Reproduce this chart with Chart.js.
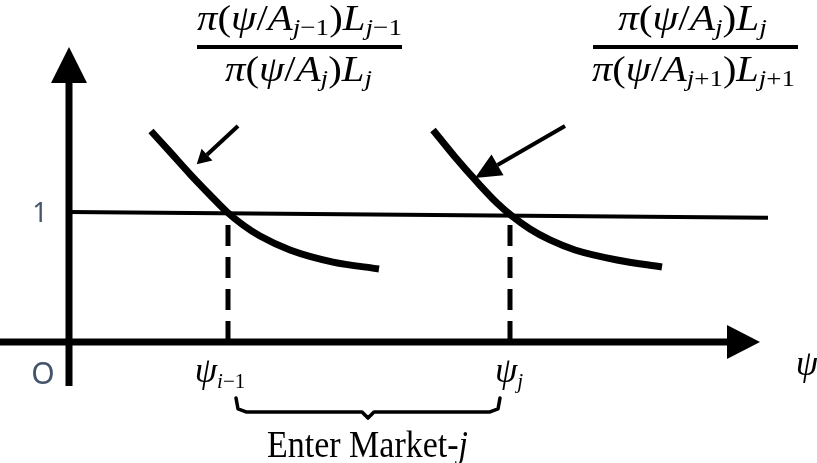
<!DOCTYPE html>
<html>
<head>
<meta charset="utf-8">
<script src="https://cdn.jsdelivr.net/npm/chart.js@4"></script>
<style>
  html, body { margin: 0; padding: 0; background: #fff; }
  #wrap { width: 817px; height: 463px; }
</style>
</head>
<body>
<div id="wrap"><canvas id="diagram" width="817" height="463"></canvas></div>
<script>
/* diagram: entry thresholds psi_{i-1}, psi_j where profit ratios cross 1 */

// ratio curve for market j-1 vs j (left) and j vs j+1 (right)
const curveLeft = [
  { x: 0.82, y: 1.623 }, { x: 1.01, y: 1.462 }, { x: 1.21, y: 1.292 },
  { x: 1.41, y: 1.131 }, { x: 1.58, y: 1.0 }, { x: 1.74, y: 0.9 },
  { x: 1.91, y: 0.815 }, { x: 2.21, y: 0.708 }, { x: 2.64, y: 0.615 },
  { x: 3.10, y: 0.562 }
];
const curveRight = [
  { x: 3.64, y: 1.631 }, { x: 3.86, y: 1.423 }, { x: 4.08, y: 1.231 },
  { x: 4.28, y: 1.069 }, { x: 4.43, y: 0.969 }, { x: 4.61, y: 0.869 },
  { x: 4.81, y: 0.785 }, { x: 5.06, y: 0.708 }, { x: 5.48, y: 0.631 },
  { x: 5.93, y: 0.577 }
];
// level 1 reference line
const unitLine = [{ x: 0, y: 1.0 }, { x: 6.99, y: 0.955 }];
// axes (end at the arrow base, head added by plugin)
const xAxisLine = [{ x: -0.69, y: 0 }, { x: 6.58, y: 0 }];
const yAxisLine = [{ x: 0, y: -0.338 }, { x: 0, y: 1.992 }];
// thresholds
const thresholds = [1.59, 4.41];
const dropTop = 0.9;
// pointers from the formulas to the curves
const pointerLeft = [{ x: 1.69, y: 1.662 }, { x: 1.38, y: 1.441 }];
const pointerRight = [{ x: 4.96, y: 1.662 }, { x: 4.285, y: 1.362 }];
// fraction bars
const fracBarLeft = [{ x: 1.28, y: 2.269 }, { x: 3.33, y: 2.269 }];
const fracBarRight = [{ x: 5.24, y: 2.269 }, { x: 7.29, y: 2.269 }];
// brace under the interval
const brace = [
  { x: 1.67, y: -0.431 }, { x: 1.69, y: -0.515 }, { x: 1.77, y: -0.538 },
  { x: 2.93, y: -0.538 }, { x: 2.99, y: -0.585 }, { x: 3.05, y: -0.538 },
  { x: 4.21, y: -0.538 }, { x: 4.29, y: -0.515 }, { x: 4.31, y: -0.431 }
];

// text runs: [text, kind]  i = italic, r = roman, si/sr = subscript
const numLeft = [['π','i'],['(','r'],['ψ','i'],['/','r'],['A','i'],['j','si'],['−1','sr'],[')','r'],['L','i'],['j','si'],['−1','sr']];
const denLeft = [['π','i'],['(','r'],['ψ','i'],['/','r'],['A','i'],['j','si'],[')','r'],['L','i'],['j','si']];
const numRight = denLeft;
const denRight = [['π','i'],['(','r'],['ψ','i'],['/','r'],['A','i'],['j','si'],['+1','sr'],[')','r'],['L','i'],['j','si'],['+1','sr']];
const psiPrev = [['ψ','i'],['i','si'],['−1','sr']];
const psiJ = [['ψ','i'],['j','si']];
const psiAxis = [['ψ','i']];
const enterLabel = [['Enter Market-','r'],['j','i']];

const INK = '#000';
const TICK_COLOR = '#44546A';

function line(data, width, extra) {
  return Object.assign({
    data, showLine: true, borderColor: INK, backgroundColor: INK,
    borderWidth: width, pointRadius: 0, tension: 0, clip: false,
    borderCapStyle: 'butt'
  }, extra || {});
}

function drawRuns(ctx, runs, x, y, opt) {
  const main = opt.size, sub = opt.sub || Math.round(main * 0.64), drop = opt.drop || 5;
  const fontOf = r => (r[1].includes('i') ? 'italic ' : '') + (r[1][0] === 's' ? sub : main) + 'px "Liberation Serif", "DejaVu Serif", serif';
  let w = 0;
  const widths = runs.map(r => { ctx.font = fontOf(r); const m = ctx.measureText(r[0]).width; w += m; return m; });
  const k = opt.width ? opt.width / w : 1;
  ctx.save();
  ctx.fillStyle = INK;
  ctx.textBaseline = 'alphabetic';
  ctx.textAlign = 'left';
  ctx.translate(opt.align === 'center' ? x - w * k / 2 : x, y);
  ctx.scale(k, 1);
  let cx = 0;
  runs.forEach((r, i) => {
    ctx.font = fontOf(r);
    ctx.fillText(r[0], cx, r[1][0] === 's' ? drop : 0);
    cx += widths[i];
  });
  ctx.restore();
}

const arrowHeads = {
  id: 'arrowHeads',
  afterDatasetsDraw(chart) {
    const ctx = chart.ctx;
    chart.data.datasets.forEach((ds, i) => {
      if (!ds.arrowHead) return;
      const pts = chart.getDatasetMeta(i).data;
      const a = pts[pts.length - 2], b = pts[pts.length - 1];
      const dx = b.x - a.x, dy = b.y - a.y, l = Math.hypot(dx, dy);
      const ux = dx / l, uy = dy / l;
      const { len, half } = ds.arrowHead;
      ctx.save();
      ctx.fillStyle = INK;
      ctx.beginPath();
      ctx.moveTo(b.x + ux * len, b.y + uy * len);
      ctx.lineTo(b.x - uy * half, b.y + ux * half);
      ctx.lineTo(b.x + uy * half, b.y - ux * half);
      ctx.closePath();
      ctx.fill();
      ctx.restore();
    });
  }
};

const labels = {
  id: 'labels',
  afterDraw(chart) {
    const ctx = chart.ctx, sx = chart.scales.x, sy = chart.scales.y;
    const X = v => sx.getPixelForValue(v), Y = v => sy.getPixelForValue(v);

    // tick-like labels
    ctx.save();
    ctx.fillStyle = TICK_COLOR;
    ctx.textAlign = 'center';
    ctx.textBaseline = 'middle';
    ctx.font = '27px "Noto Sans", sans-serif';
    ctx.fillText('1', X(-0.29), Y(0.985));
    ctx.font = '30px "Noto Sans", sans-serif';
    ctx.fillText('O', X(-0.26), Y(-0.258));
    ctx.restore();

    // formulas
    drawRuns(ctx, numLeft, X(2.305), Y(2.4), { size: 36, sub: 24, drop: 5, width: 205, align: 'center' });
    drawRuns(ctx, denLeft, X(2.295), Y(2.008), { size: 36, sub: 24, drop: 5, width: 147, align: 'center' });
    drawRuns(ctx, numRight, X(6.235), Y(2.4), { size: 36, sub: 24, drop: 5, width: 149, align: 'center' });
    drawRuns(ctx, denRight, X(6.245), Y(2.008), { size: 36, sub: 24, drop: 5, width: 203, align: 'center' });

    // axis labels
    drawRuns(ctx, psiPrev, X(1.51), Y(-0.308), { size: 36, sub: 21, drop: 6, align: 'center' });
    drawRuns(ctx, psiJ, X(4.40), Y(-0.308), { size: 36, sub: 21, drop: 6, align: 'center' });
    drawRuns(ctx, psiAxis, X(7.38), Y(-0.254), { size: 36, align: 'center' });

    // interval label
    drawRuns(ctx, enterLabel, X(1.98), Y(-0.885), { size: 38, width: 201 });
  }
};

new Chart(document.getElementById('diagram'), {
  type: 'scatter',
  data: {
    datasets: [
      line(curveLeft, 7, { cubicInterpolationMode: 'monotone' }),
      line(curveRight, 7, { cubicInterpolationMode: 'monotone' }),
      line(unitLine, 4),
      line(xAxisLine, 7, { arrowHead: { len: 33, half: 17 } }),
      line(yAxisLine, 7, { arrowHead: { len: 36, half: 18 } }),
      ...thresholds.map(t => line([{ x: t, y: dropTop }, { x: t, y: 0 }], 5, { borderDash: [21, 11] })),
      line(pointerLeft, 4, { arrowHead: { len: 14, half: 8 } }),
      line(pointerRight, 4, { arrowHead: { len: 26, half: 12 } }),
      line(fracBarLeft, 4),
      line(fracBarRight, 4),
      line(brace, 3.5, { borderJoinStyle: 'round', borderCapStyle: 'round' })
    ]
  },
  options: {
    responsive: false,
    devicePixelRatio: 1,
    animation: false,
    events: [],
    layout: { padding: 0 },
    plugins: { legend: { display: false }, tooltip: { enabled: false }, title: { display: false } },
    scales: {
      x: { type: 'linear', min: -0.69, max: 7.48, display: false },
      y: { type: 'linear', min: -0.9308, max: 2.6308, display: false }
    }
  },
  plugins: [arrowHeads, labels]
});
</script>
</body>
</html>
